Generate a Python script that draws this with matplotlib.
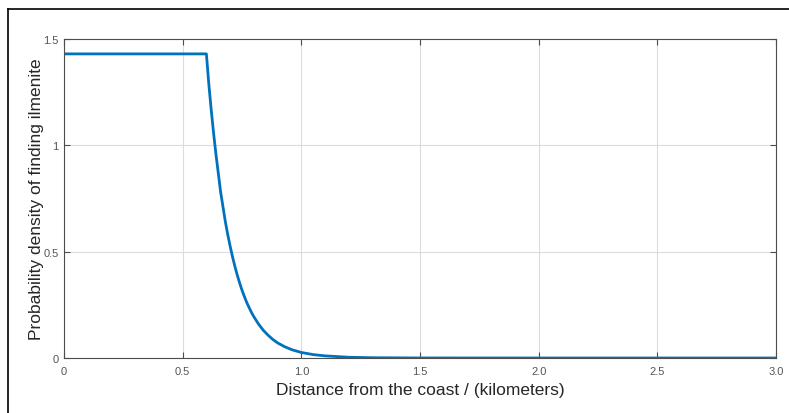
import numpy as np
import matplotlib
matplotlib.use('Agg')
import matplotlib.pyplot as plt
from matplotlib.lines import Line2D

# Values
distance_km = [0.0, 0.6, 0.61, 0.62, 0.63, 0.64, 0.65, 0.66, 0.67, 0.68, 0.69,
               0.70, 0.71, 0.72, 0.73, 0.74, 0.75, 0.76, 0.77, 0.78, 0.79,
               0.80, 0.82, 0.84, 0.86, 0.88, 0.90, 0.93, 0.96, 1.00, 1.05,
               1.10, 1.20, 1.30, 1.50, 2.00, 3.00]
density = [1.43, 1.43, 1.29, 1.17, 1.06, 0.96, 0.87, 0.78, 0.71, 0.64, 0.58,
           0.526, 0.476, 0.431, 0.390, 0.353, 0.319, 0.289, 0.261, 0.237, 0.214,
           0.194, 0.159, 0.130, 0.107, 0.087, 0.071, 0.053, 0.039, 0.026, 0.016,
           0.010, 0.0035, 0.0013, 0.0002, 0.0, 0.0]

x_ticks = [0, 0.5, 1.0, 1.5, 2.0, 2.5, 3.0]
x_tick_labels = ['0', '0.5', '1.0', '1.5', '2.0', '2.5', '3.0']
y_ticks = [0, 0.5, 1, 1.5]
y_tick_labels = ['0', '0.5', '1', '1.5']

plt.rcParams['font.family'] = ['Liberation Sans', 'DejaVu Sans']

fig = plt.figure(figsize=(7.89, 4.14), dpi=100)
ax = fig.add_axes([64 / 789, 55 / 414, 712 / 789, 319 / 414])

ax.plot(distance_km, density, color='#0072BD', linewidth=2)

ax.set_xlim(0, 3)
ax.set_ylim(0, 1.5)
ax.set_xticks(x_ticks)
ax.set_xticklabels(x_tick_labels)
ax.set_yticks(y_ticks)
ax.set_yticklabels(y_tick_labels)
ax.grid(True, color='#dcdcdc', linewidth=0.8)
ax.set_axisbelow(True)

ax.tick_params(direction='in', length=4, width=0.8, colors='#4d4d4d',
               labelsize=8, labelcolor='#555555', top=True, right=True)
ax.tick_params(axis='x', pad=6)
ax.tick_params(axis='y', pad=4)
for s in ax.spines.values():
    s.set_color('#4d4d4d')
    s.set_linewidth(0.8)

ax.set_xlabel('Distance from the coast / (kilometers)', fontsize=12.5,
              color='#262626', labelpad=4)
ax.set_ylabel('Probability density of finding ilmenite', fontsize=12.5,
              color='#262626', labelpad=-1)

# outer frame lines (top and left)
fig.add_artist(Line2D([8 / 789, 1.0], [1 - 10 / 414, 1 - 10 / 414],
                      transform=fig.transFigure, color='black', linewidth=1.2))
fig.add_artist(Line2D([8 / 789, 8 / 789], [0, 1 - 10 / 414],
                      transform=fig.transFigure, color='black', linewidth=1.2))

fig.savefig('out.png', dpi=100)
